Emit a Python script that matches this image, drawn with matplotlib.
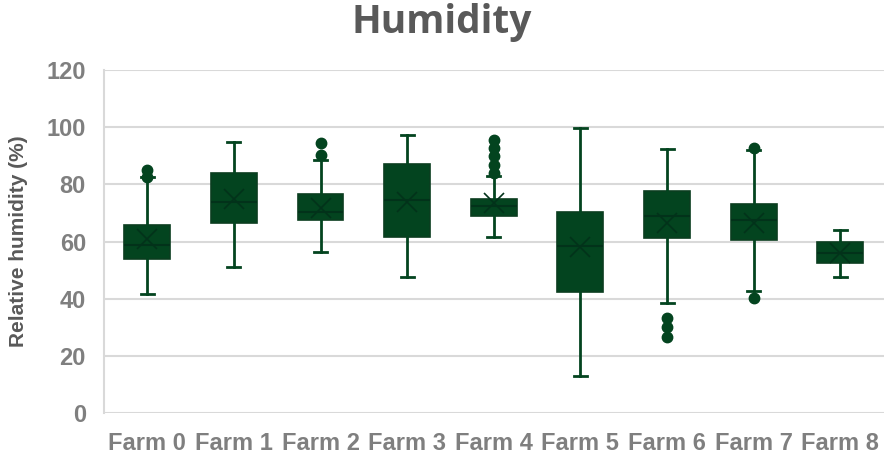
import matplotlib.pyplot as plt

# Box statistics per farm (relative humidity, %)
farms = ['Farm 0', 'Farm 1', 'Farm 2', 'Farm 3', 'Farm 4',
         'Farm 5', 'Farm 6', 'Farm 7', 'Farm 8']
q1 = [54.0, 66.6, 67.5, 61.7, 68.9, 42.4, 61.4, 60.7, 52.6]
median = [58.9, 73.7, 70.5, 74.7, 72.4, 58.4, 68.8, 67.5, 55.9]
q3 = [65.8, 83.9, 76.5, 87.2, 74.9, 70.4, 77.7, 73.3, 59.7]
mean = [60.9, 74.8, 71.6, 73.9, 73.4, 58.2, 66.4, 66.4, 56.1]
whisker_low = [41.6, 51.2, 56.2, 47.7, 61.5, 12.9, 38.6, 42.7, 47.7]
whisker_high = [82.7, 94.8, 88.7, 97.3, 82.9, 99.8, 92.3, 92.0, 64.0]
outliers = [
    [85.2, 82.5],
    [],
    [90.4, 94.5],
    [],
    [83.9, 86.8, 89.8, 92.6, 95.5],
    [],
    [33.4, 30.2, 26.5],
    [92.6, 40.1],
    [],
]

green = '#03441f'
grey_text = '#7f7f7f'

stats = []
for i in range(len(farms)):
    stats.append(dict(label=farms[i], q1=q1[i], med=median[i], q3=q3[i],
                      mean=mean[i], whislo=whisker_low[i],
                      whishi=whisker_high[i], fliers=outliers[i]))

fig = plt.figure(figsize=(8.84, 4.62), dpi=100)
ax = fig.add_axes([0.1176, 0.106, 0.882, 0.742])

ax.bxp(stats, positions=range(len(farms)), widths=0.53, patch_artist=True,
       showmeans=True, capwidths=0.15,
       boxprops=dict(facecolor=green, edgecolor='#0b3d1f', linewidth=1.2),
       medianprops=dict(color='#02321a', linewidth=1.5),
       whiskerprops=dict(color=green, linewidth=2),
       capprops=dict(color=green, linewidth=2),
       meanprops=dict(marker='x', markersize=14, markeredgecolor='#02321a',
                      markeredgewidth=1.2),
       flierprops=dict(marker='o', markerfacecolor=green,
                       markeredgecolor=green, markersize=7.5))

ax.set_xlim(-0.5, 8.5)
ax.set_ylim(0, 120)
ax.set_yticks(range(0, 121, 20))
ax.yaxis.grid(True, color='#d9d9d9', linewidth=1.5)
ax.set_axisbelow(True)
for side in ['top', 'right', 'bottom']:
    ax.spines[side].set_visible(False)
ax.spines['left'].set_color('#d9d9d9')
ax.spines['left'].set_linewidth(1.5)
ax.tick_params(length=0)
ax.tick_params(axis='y', pad=13)
ax.tick_params(axis='x', pad=14)

for lbl in ax.get_yticklabels():
    lbl.set_fontfamily('Liberation Sans')
    lbl.set_fontweight('bold')
    lbl.set_fontsize(17)
    lbl.set_color(grey_text)
for lbl in ax.get_xticklabels():
    lbl.set_fontfamily('Liberation Sans')
    lbl.set_fontweight('bold')
    lbl.set_fontsize(17)
    lbl.set_color(grey_text)

ax.set_ylabel('Relative humidity (%)', fontfamily='Liberation Sans',
              fontweight='bold', fontsize=15, color='#595959')
ax.yaxis.set_label_coords(-0.097, 0.5)

fig.text(0.5, 0.952, 'Humidity', ha='center', va='center',
         fontfamily='Open Sans', fontweight='bold', fontsize=28,
         color='#595959')

fig.savefig('out.png', dpi=100)
